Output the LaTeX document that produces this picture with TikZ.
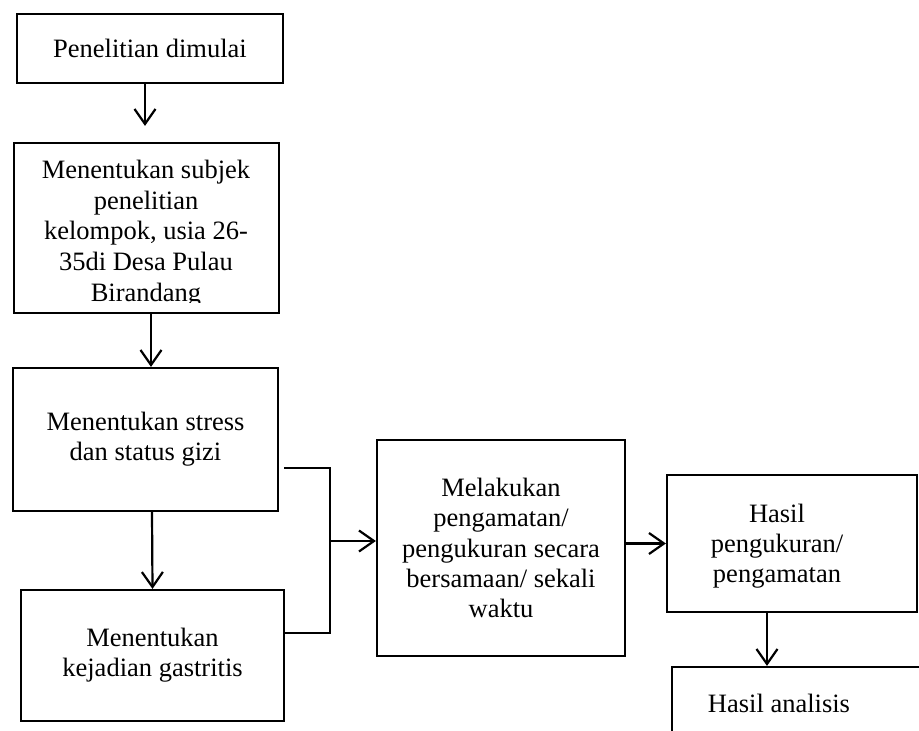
\documentclass[tikz,border=0pt]{standalone}
\usepackage{fontspec}
\setmainfont{Liberation Serif}
\usetikzlibrary{arrows.meta}
\begin{document}
\begin{tikzpicture}[x=1pt,y=-1pt,
  box/.style={draw, line width=2.2pt, rectangle, inner sep=0pt, align=center,
    font=\fontsize{26.5}{30.3}\selectfont},
  txt/.style={inner sep=0pt, align=center, font=\fontsize{26.5}{30.3}\selectfont},
  conn/.style={line width=2.2pt},
  arr/.style={conn, -{Straight Barb[length=15pt, width=21pt, line width=2.2pt]}}]
\clip (0,0) rectangle (919,731);
\fill[white] (0,0) rectangle (919,731);
% boxes
\node[box, minimum width=266pt, minimum height=69pt] (b1) at (150,48.5) {Penelitian dimulai};
\node[box, minimum width=265pt, minimum height=170pt] (b2) at (146.5,228) {};
\begin{scope}
  \clip (14,143) rectangle (279,302);
  \node[txt, font=\fontsize{26.5}{30.9}\selectfont] (t2) at (146,233.6) {Menentukan subjek\\penelitian\\kelompok, usia 26-\\35di Desa Pulau\\Birandang};
\end{scope}
\node[box, minimum width=265pt, minimum height=143pt] (b3) at (145.5,439.5) {Menentukan stress\\dan status gizi};
\node[box, minimum width=263pt, minimum height=131pt] (b4) at (152.5,655.5) {Menentukan\\kejadian gastritis};
\node[box, minimum width=248pt, minimum height=216pt] (b5) at (501,548) {Melakukan\\pengamatan/\\pengukuran secara\\bersamaan/ sekali\\waktu};
\node[box, minimum width=250pt, minimum height=137pt] (b6) at (792,543.5) {};
\node[txt] (t6) at (777,546) {Hasil\\pengukuran/\\pengamatan};
\node[box, minimum width=258pt, minimum height=78pt] (b7) at (801,706) {};
\node[txt] (t7) at (779,703.6) {Hasil analisis};
% connectors
\draw[arr, shorten >=16pt] ([xshift=-5pt]b1.south) -- ([xshift=-1.5pt]b2.north);
\draw[arr] ([xshift=4.5pt]b2.south) -- ([xshift=5.5pt]b3.north);
\draw[arr] ([xshift=6.5pt]b3.south) -- (b4.north);
\coordinate (j) at (330,541);
\draw[conn] ([xshift=5pt,yshift=-28.5pt]b3.east) -| (j) |- ([yshift=22.5pt]b4.east);
\draw[arr] (j) -- (j -| b5.west);
\draw[arr] (b6.west -| b5.east) -- (b6.west);
\draw[arr] ([xshift=-25pt]b6.south) -- ([xshift=-25pt]b6.south |- b7.north);
\end{tikzpicture}
\end{document}
